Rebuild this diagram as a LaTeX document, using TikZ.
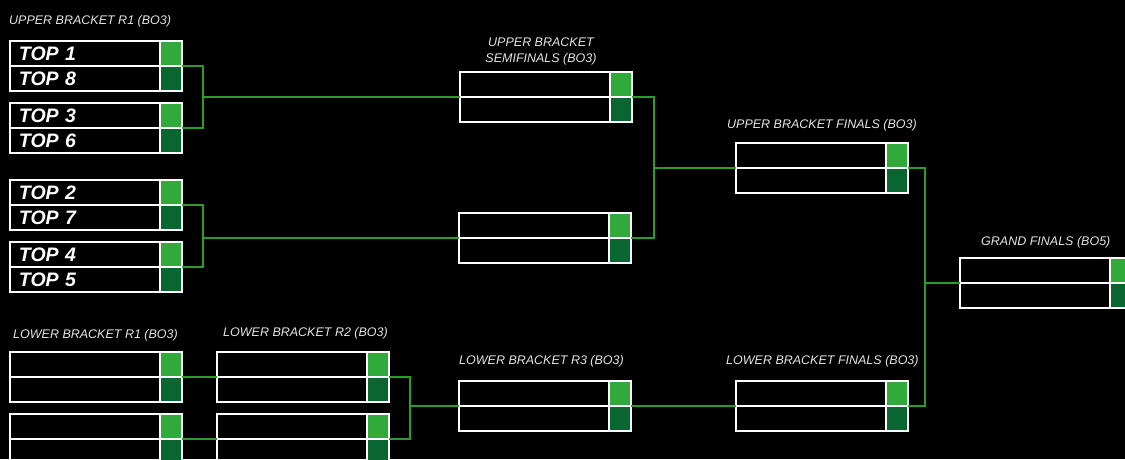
\documentclass[tikz,border=0pt]{standalone}
\usepackage{fontspec}
\setmainfont{Liberation Sans}
\usetikzlibrary{calc}
\definecolor{lgreen}{HTML}{30AA3A}
\definecolor{dgreen}{HTML}{0A6631}
\definecolor{conncol}{HTML}{2C9C2C}
\definecolor{lblcol}{HTML}{E4E4E4}
\tikzset{
  slot/.style={draw=white, line width=2pt, minimum width=150pt, minimum height=25pt,
    inner ysep=0pt, inner xsep=9pt, text width=132pt, align=left, text=white, outer sep=0pt,
    font=\fontsize{19.5}{20}\selectfont\bfseries\itshape},
  scorebox/.style={draw=white, line width=2pt, minimum width=22pt, minimum height=25pt,
    inner sep=0pt, outer sep=0pt},
  conn/.style={draw=conncol, line width=2pt},
  hdr/.style={text=lblcol, font=\fontsize{12.5}{14}\selectfont\itshape, inner sep=0pt}
}
% #1 name, #2 outer left x, #3 outer top y (pixels)
\newcommand\matchbox[5]{%
  \node[slot, anchor=north west] (#1a) at (#2+1,-#3-1) {#4};
  \node[slot, anchor=north west] (#1b) at (#2+1,-#3-26) {#5};
  \node[scorebox, fill=lgreen, anchor=north west] (#1sa) at (#2+151,-#3-1) {};
  \node[scorebox, fill=dgreen, anchor=north west] (#1sb) at (#2+151,-#3-26) {};
}
\begin{document}
\begin{tikzpicture}[x=1pt,y=1pt]
\fill[black] (0,0) rectangle (1125,-459);
\useasboundingbox (0,0) rectangle (1125,-459);

% headers
\node[hdr, anchor=base west] (h1) at (9,-24) {UPPER BRACKET R1 (BO3)};
\node[hdr, anchor=base] (h2) at (541,-46) {UPPER BRACKET};
\node[hdr, anchor=base] (h2b) at (541,-62) {SEMIFINALS (BO3)};
\node[hdr, anchor=base] (h3) at (822,-128) {UPPER BRACKET FINALS (BO3)};
\node[hdr, anchor=base west] (h4) at (981,-245) {GRAND FINALS (BO5)};
\node[hdr, anchor=base west] (h5) at (13,-338) {LOWER BRACKET R1 (BO3)};
\node[hdr, anchor=base west] (h6) at (223,-336) {LOWER BRACKET R2 (BO3)};
\node[hdr, anchor=base west] (h7) at (459,-364) {LOWER BRACKET R3 (BO3)};
\node[hdr, anchor=base west] (h8) at (726,-364) {LOWER BRACKET FINALS (BO3)};

% matches
\matchbox{urA}{9}{40}{TOP 1}{TOP 8}
\matchbox{urB}{9}{102}{TOP 3}{TOP 6}
\matchbox{urC}{9}{179}{TOP 2}{TOP 7}
\matchbox{urD}{9}{241}{TOP 4}{TOP 5}
\matchbox{usfA}{459}{71}{}{}
\matchbox{usfB}{458}{212}{}{}
\matchbox{ubf}{735}{142}{}{}
\matchbox{gf}{959}{257}{}{}
\matchbox{lrA}{9}{351}{}{}
\matchbox{lrB}{9}{413}{}{}
\matchbox{lrC}{216}{351}{}{}
\matchbox{lrD}{216}{413}{}{}
\matchbox{lrE}{458}{380}{}{}
\matchbox{lbf}{735}{380}{}{}

% connectors
\draw[conn] (urAsa.south east) -- ++(21,0) |- (urBsa.south east);
\draw[conn] (usfAa.south west) -| ([xshift=21pt]urAsa.south east);
\draw[conn] (urCsa.south east) -- ++(21,0) |- (urDsa.south east);
\draw[conn] (usfBa.south west) -| ([xshift=21pt]urCsa.south east);
\draw[conn] (usfAsa.south east) -- ++(22,0) |- (usfBsa.south east);
\draw[conn] (ubfa.south west) -| ([xshift=22pt]usfAsa.south east);
\draw[conn] (ubfsa.south east) -- ++(17,0) |- (lbfsa.south east);
\draw[conn] (gfa.south west) -| ([xshift=17pt]ubfsa.south east);
\draw[conn] (lrAsa.south east) -- (lrCa.south west);
\draw[conn] (lrBsa.south east) -- (lrDa.south west);
\draw[conn] (lrCsa.south east) -- ++(21,0) |- (lrDsa.south east);
\draw[conn] (lrEa.south west) -| ([xshift=21pt]lrCsa.south east);
\draw[conn] (lrEsa.south east) -- (lbfa.south west);
\end{tikzpicture}
\end{document}
